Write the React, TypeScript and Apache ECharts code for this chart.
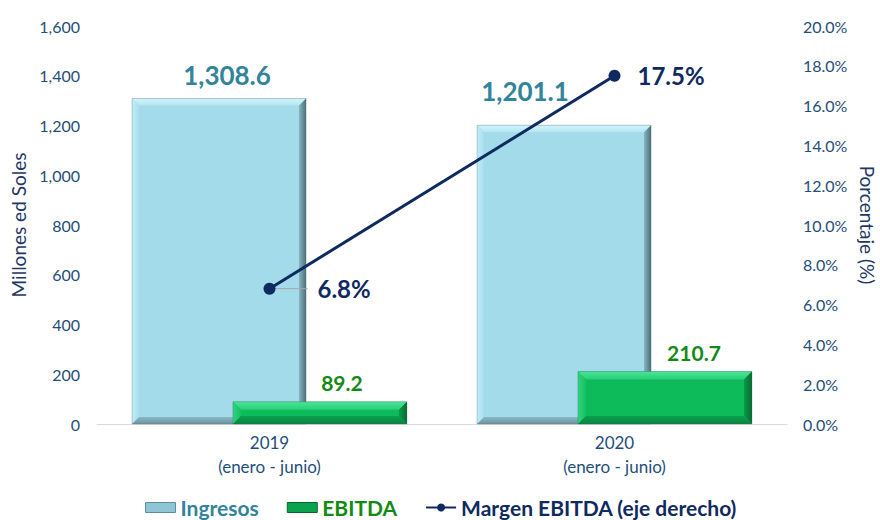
import React, { useEffect, useRef } from "react";
import * as echarts from "echarts";

const categories = ["2019\n(enero - junio)", "2020\n(enero - junio)"];
const ingresos = [1308.6, 1201.1];
const ebitda = [89.2, 210.7];
const margen = [6.8, 17.5];
const leftTicks = { min: 0, max: 1600, interval: 200 };
const rightTicks = { min: 0, max: 20, interval: 2 };

const FONT = "Lato, 'Open Sans', sans-serif";
const BAR_W = 174;
const GAP = -0.42;
const HALF_OFF = (BAR_W * 2 + BAR_W * GAP) / 2 - BAR_W / 2;

function fmtThousands(v: number, dec = 0) {
  const s = v.toFixed(dec);
  const [i, d] = s.split(".");
  const ii = i.replace(/\B(?=(\d{3})+(?!\d))/g, ",");
  return d ? ii + "." + d : ii;
}

function lg(x2: number, y2: number, stops: [number, string][]) {
  return new echarts.graphic.LinearGradient(0, 0, x2, y2, stops.map(([offset, color]) => ({ offset, color })));
}

function bevel(offset: number, cols: { top: any; left: any; right: any; bottom: any }, b: number) {
  return (params: any, api: any) => {
    const idx = api.value(0);
    const val = api.value(1);
    const c = api.coord([idx, val]);
    const base = api.coord([idx, 0]);
    const cx = c[0] + offset;
    const x0 = cx - BAR_W / 2;
    const x1 = cx + BAR_W / 2;
    const y0 = c[1];
    const y1 = base[1];
    const bb = Math.min(b, (y1 - y0) / 2);
    return {
      type: "group",
      silent: true,
      children: [
        { type: "polygon", shape: { points: [[x0, y0], [x1, y0], [x1 - bb, y0 + bb], [x0 + bb, y0 + bb]] }, style: { fill: cols.top } },
        { type: "polygon", shape: { points: [[x0, y0], [x0 + bb, y0 + bb], [x0 + bb, y1 - bb], [x0, y1]] }, style: { fill: cols.left } },
        { type: "polygon", shape: { points: [[x1, y0], [x1, y1], [x1 - bb, y1 - bb], [x1 - bb, y0 + bb]] }, style: { fill: cols.right } },
        { type: "polygon", shape: { points: [[x0, y1], [x0 + bb, y1 - bb], [x1 - bb, y1 - bb], [x1, y1]] }, style: { fill: cols.bottom } },
        { type: "rect", shape: { x: x0, y: y0, width: BAR_W, height: y1 - y0 }, style: { fill: "none", stroke: "rgba(60,90,100,0.35)", lineWidth: 0.8 } },
      ],
    };
  };
}

export default function App() {
  const ref = useRef<HTMLDivElement>(null);
  useEffect(() => {
    if (!ref.current) return;
    const chart = echarts.init(ref.current, undefined, { renderer: "svg" });
    const ingLabelDist = [10, 21];
    const ingLabelOffsets = [[8, 0], [-39, 0]];
    const ebLabelOffsets = [[22, 0], [29, 0]];
    chart.setOption({
      animation: false,
      backgroundColor: "#ffffff",
      textStyle: { fontFamily: FONT },
      grid: { left: 97, right: 93, top: 26, bottom: 96, containLabel: false, outerBoundsMode: "none" },
      legend: {
        left: 140,
        top: 492,
        itemWidth: 30,
        itemHeight: 10,
        itemGap: 28,
        textStyle: { fontFamily: FONT, fontSize: 21, fontWeight: "bold" },
        data: [
          { name: "Ingresos", icon: "rect", itemStyle: { color: "#8fc6d6", borderColor: "#5f8c99", borderWidth: 1 }, textStyle: { color: "#31849B" } },
          { name: "EBITDA", icon: "rect", itemStyle: { color: "#0aa34d", borderColor: "#066a30", borderWidth: 1 }, textStyle: { color: "#138a13" } },
          { name: "Margen EBITDA (eje derecho)", textStyle: { color: "#0f2a5f" } },
        ],
      },
      xAxis: {
        type: "category",
        data: categories,
        axisLine: { show: true, lineStyle: { color: "#d9d9d9", width: 1 } },
        axisTick: { show: false },
        axisLabel: { color: "#1f4e79", fontSize: 17, lineHeight: 24, margin: 6, fontFamily: FONT },
      },
      yAxis: [
        {
          type: "value",
          min: leftTicks.min,
          max: leftTicks.max,
          interval: leftTicks.interval,
          name: "Millones ed Soles",
          nameLocation: "middle",
          nameGap: 65,
          nameRotate: 90,
          nameTextStyle: { color: "#1f3864", fontSize: 19, fontFamily: FONT },
          axisLine: { show: false },
          axisTick: { show: false },
          splitLine: { show: false },
          axisLabel: { color: "#1f4e79", fontSize: 16, margin: 17, fontFamily: FONT, formatter: (v: number) => fmtThousands(v) },
        },
        {
          type: "value",
          min: rightTicks.min,
          max: rightTicks.max,
          interval: rightTicks.interval,
          name: "Porcentaje (%)",
          nameLocation: "middle",
          nameGap: 71,
          nameRotate: -90,
          nameTextStyle: { color: "#1f3864", fontSize: 19, fontFamily: FONT },
          axisLine: { show: false },
          axisTick: { show: false },
          splitLine: { show: false },
          axisLabel: { color: "#1f4e79", fontSize: 16, margin: 16, fontFamily: FONT, formatter: (v: number) => v.toFixed(1) + "%" },
        },
      ],
      series: [
        {
          name: "Ingresos",
          type: "bar",
          barWidth: BAR_W,
          barGap: GAP * 100 + "%",
          z: 2,
          itemStyle: { color: "#a3dbea" },
          data: ingresos.map((v, i) => ({
            value: v,
            label: {
              show: true,
              position: "top",
              distance: ingLabelDist[i],
              offset: ingLabelOffsets[i],
              formatter: (p: any) => fmtThousands(p.value, 1),
              color: "#31849B",
              fontSize: 26,
              fontWeight: "bold",
              fontFamily: FONT,
            },
          })),
        },
        {
          name: "IngresosBevel",
          type: "custom",
          z: 3,
          silent: true,
          renderItem: bevel(
            -HALF_OFF,
            {
              top: lg(0, 1, [[0, "#d4f3fa"], [1, "#b2e6f3"]]),
              left: lg(1, 0, [[0, "#c2ecf6"], [1, "#a8def0"]]),
              right: lg(1, 0, [[0, "#86b3c0"], [1, "#4c717c"]]),
              bottom: lg(0, 1, [[0, "#8ab8c5"], [1, "#6a95a1"]]),
            },
            7
          ),
          data: ingresos.map((v, i) => [i, v]),
          encode: { x: 0, y: 1 },
          tooltip: { show: false },
        },
        {
          name: "EBITDA",
          type: "bar",
          barWidth: BAR_W,
          barGap: GAP * 100 + "%",
          z: 4,
          itemStyle: { color: "#0dbb5b" },
          data: ebitda.map((v, i) => ({
            value: v,
            label: {
              show: true,
              position: "top",
              distance: 9,
              offset: ebLabelOffsets[i],
              formatter: (p: any) => p.value.toFixed(1),
              color: "#138a13",
              fontSize: 21,
              fontWeight: "bold",
              fontFamily: FONT,
            },
          })),
        },
        {
          name: "EBITDABevel",
          type: "custom",
          z: 5,
          silent: true,
          renderItem: bevel(
            HALF_OFF,
            {
              top: lg(0, 1, [[0, "#4be497"], [1, "#27cf76"]]),
              left: lg(1, 0, [[0, "#33d27e"], [1, "#14c064"]]),
              right: lg(1, 0, [[0, "#0b9a4a"], [1, "#066a31"]]),
              bottom: lg(0, 1, [[0, "#0aa04d"], [1, "#088540"]]),
            },
            8
          ),
          data: ebitda.map((v, i) => [i, v]),
          encode: { x: 0, y: 1 },
          tooltip: { show: false },
        },
        {
          name: "Leader",
          type: "custom",
          yAxisIndex: 1,
          z: 7,
          silent: true,
          renderItem: (params: any, api: any) => {
            const p = api.coord([api.value(0), api.value(1)]);
            return { type: "line", shape: { x1: p[0], y1: p[1], x2: p[0] + 38, y2: p[1] }, style: { stroke: "#a6a6a6", lineWidth: 1 } };
          },
          data: [[0, margen[0]]],
          encode: { x: 0, y: 1 },
        },
        {
          name: "Margen EBITDA (eje derecho)",
          type: "line",
          yAxisIndex: 1,
          z: 8,
          symbol: "circle",
          symbolSize: 12,
          lineStyle: { color: "#0f2a5f", width: 3 },
          itemStyle: { color: "#0f2a5f" },
          label: {
            show: true,
            position: "right",
            color: "#0f2a5f",
            fontSize: 24,
            fontWeight: "bold",
            fontFamily: FONT,
            formatter: (p: any) => p.value.toFixed(1) + "%",
          },
          data: margen.map((v, i) => ({
            value: v,
            label: { distance: i === 0 ? 42 : 17 },
          })),
        },
      ],
    });
    return () => chart.dispose();
  }, []);
  return <div ref={ref} style={{ position: "fixed", left: 0, top: 0, width: 880, height: 520 }} />;
}
